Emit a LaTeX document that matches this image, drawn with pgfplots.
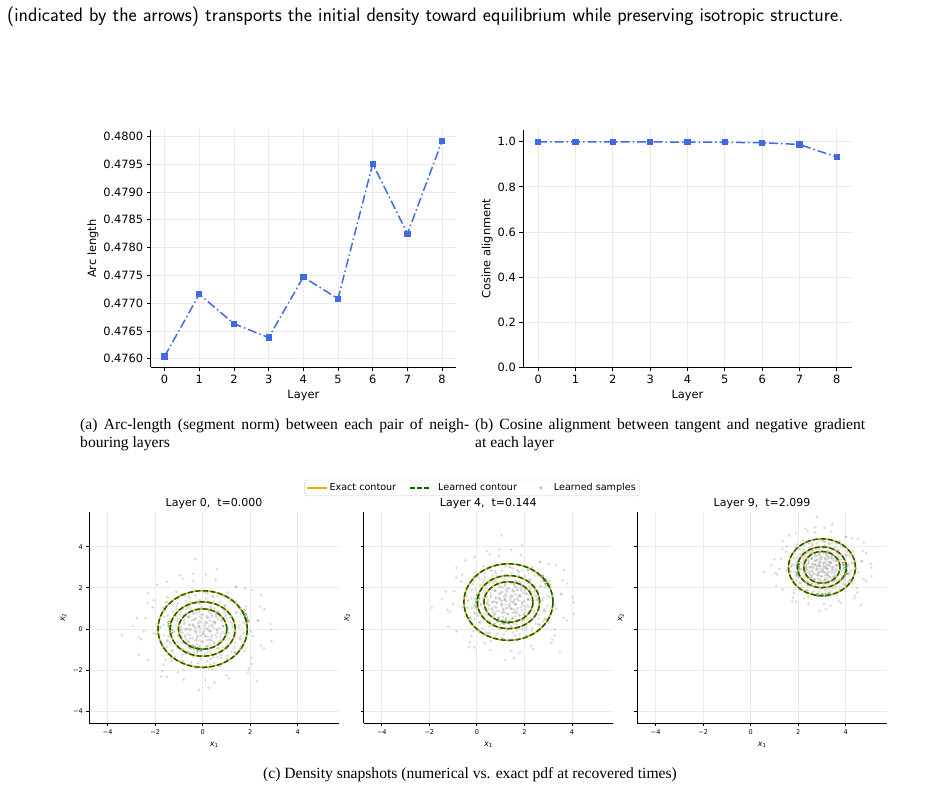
\documentclass[border=0pt]{standalone}
\usepackage{pgfplots}
\pgfplotsset{compat=1.18}
\usepackage{pgfplotstable}
\usepackage{fontspec}
\setmainfont{Liberation Serif}
\newfontfamily\dejavu{DejaVu Sans}
\definecolor{royal}{HTML}{4169E1}
\definecolor{exactc}{HTML}{FFA500}
\definecolor{learnc}{HTML}{006400}
\definecolor{gridc}{HTML}{EBEBEB}
\definecolor{sampc}{HTML}{8C8C8C}

\pgfplotstableread{
layer arc
0 0.47604
1 0.47716
2 0.47663
3 0.47638
4 0.47747
5 0.47708
6 0.47951
7 0.47825
8 0.47992
}\arcdata

\pgfplotstableread{
layer cosv
0 0.9995
1 0.9993
2 0.9992
3 0.9990
4 0.9985
5 0.9975
6 0.9955
7 0.9880
8 0.9320
}\cosdata

\pgfplotstableread{
c s
1 0
0.9848 0.1736
0.9397 0.3420
0.8660 0.5
0.7660 0.6428
0.6428 0.7660
0.5 0.8660
0.3420 0.9397
0.1736 0.9848
0 1
-0.1736 0.9848
-0.3420 0.9397
-0.5 0.8660
-0.6428 0.7660
-0.7660 0.6428
-0.8660 0.5
-0.9397 0.3420
-0.9848 0.1736
-1 0
-0.9848 -0.1736
-0.9397 -0.3420
-0.8660 -0.5
-0.7660 -0.6428
-0.6428 -0.7660
-0.5 -0.8660
-0.3420 -0.9397
-0.1736 -0.9848
0 -1
0.1736 -0.9848
0.3420 -0.9397
0.5 -0.8660
0.6428 -0.7660
0.7660 -0.6428
0.8660 -0.5
0.9397 -0.3420
0.9848 -0.1736
1 0
}\unitcircle

\pgfplotstableread{
x y
0.12 0.35
-0.41 0.22
0.63 -0.18
-0.27 -0.55
0.05 -0.09
0.81 0.40
-0.72 -0.31
0.33 0.77
-0.15 0.91
0.48 -0.66
-0.58 0.61
0.22 -0.38
-0.90 0.12
0.70 0.05
-0.05 0.52
0.39 0.14
-0.33 -0.12
0.15 -0.85
-0.66 -0.70
0.92 -0.25
-0.20 0.28
0.57 0.58
-0.48 -0.88
0.02 0.70
-0.79 0.45
0.28 -0.09
-0.11 -0.31
0.74 -0.55
-0.38 0.75
0.44 0.35
-0.62 0.02
0.09 0.18
-0.24 -0.77
0.66 0.81
-0.85 -0.18
0.31 -0.52
-0.02 -0.60
0.52 0.26
-0.45 0.41
0.18 0.55
-0.70 -0.50
0.85 0.15
-0.30 0.05
0.03 -0.22
0.60 -0.40
-0.53 -0.29
0.26 0.95
-0.14 0.12
0.41 -0.30
-0.95 -0.05
1.25 0.30
-1.10 0.62
0.45 1.35
-0.70 -1.20
1.05 -0.90
-1.45 -0.35
0.20 -1.55
1.60 0.75
-0.55 1.48
0.95 1.12
-1.30 -1.05
1.72 -0.20
-1.85 0.30
0.05 1.80
-0.25 -1.90
1.35 -1.15
-1.05 1.25
0.78 -1.40
-1.60 0.90
1.15 0.55
-0.92 -0.68
0.60 1.62
-1.22 -0.10
1.48 1.05
-0.40 -1.35
1.90 0.35
-1.70 -0.80
0.35 -1.15
-0.80 1.70
1.02 -0.35
-0.15 1.20
1.20 -0.62
-1.55 1.30
0.88 0.98
-0.98 -1.55
1.62 -0.85
-1.12 0.20
0.10 -1.28
-0.30 1.62
1.40 0.10
-1.38 -0.62
0.72 -1.82
-0.62 1.05
1.82 1.10
-1.92 -0.25
0.50 1.02
-0.85 -1.00
1.10 1.55
-1.25 0.85
0.30 -1.72
1.55 -0.45
-0.48 -1.62
0.98 0.70
-1.65 0.20
0.15 1.48
-1.00 -0.30
1.30 1.35
-0.20 -1.10
0.62 -0.95
-1.48 1.55
1.05 0.05
-0.70 1.35
0.40 -1.95
1.78 -1.05
-1.15 -1.35
2.35 0.40
-2.10 1.05
0.55 2.40
-0.80 -2.45
2.05 -1.40
-2.60 -0.50
1.40 2.05
-1.70 -2.05
2.60 0.95
-0.40 2.70
0.25 -2.85
-2.95 0.15
1.90 -2.10
-2.30 1.75
2.90 -0.60
-0.30 3.40
1.10 -2.40
-1.50 2.30
}\samples

\tikzset{clab/.style={font=\dejavu\fontsize{5}{5}\selectfont, text=learnc, inner sep=0.5pt}}

\pgfplotsset{
  mpl/.style={
    scale only axis,
    axis lines=left,
    axis line style={-, line width=0.8pt},
    every outer x axis line/.append style={-},
    every outer y axis line/.append style={-},
    tick align=outside,
    tick style={black, line width=0.8pt},
    major tick length=4pt,
    grid=major,
    major grid style={gridc, line width=0.8pt},
  },
  samp/.style={only marks, mark=*, mark size=1.5pt, color=sampc,
    mark options={draw opacity=0, fill=sampc, fill opacity=0.3}, forget plot},
  bot/.style={mpl,
    width=249.5pt, height=211pt,
    xmin=-4.77, xmax=5.73, ymin=-4.58, ymax=5.67,
    xtick={-4,-2,0,2,4}, ytick={-4,-2,0,2,4},
    xticklabels={−4,−2,0,2,4},
    major tick length=3pt,
    tick label style={font=\dejavu\fontsize{6.5}{8}\selectfont},
    xlabel={{\dejavu\itshape x}\raisebox{-1.5pt}{\dejavu\fontsize{5.5}{6}\selectfont 1}},
    ylabel={{\dejavu\itshape x}\raisebox{-1.5pt}{\dejavu\fontsize{5.5}{6}\selectfont 2}},
    label style={font=\dejavu\fontsize{8}{9}\selectfont},
    title style={font=\dejavu\fontsize{11}{13}\selectfont, yshift=-6pt},
  },
}

\newcommand\cloud[3]{%
  \addplot[samp] table[x expr={#1+#3*\thisrow{x}}, y expr={#2+#3*\thisrow{y}}]{\samples};
  \addplot[samp] table[x expr={#1-#3*\thisrow{y}}, y expr={#2+#3*\thisrow{x}}]{\samples};
  \addplot[samp] table[x expr={#1+#3*(-0.8*\thisrow{x}+0.6*\thisrow{y})}, y expr={#2+#3*(-0.6*\thisrow{x}-0.8*\thisrow{y})}]{\samples};
}
\newcommand\ring[4]{%
  \addplot[exactc, line width=1.5pt, smooth, forget plot] table[x expr={#1+#3*\thisrow{c}}, y expr={#2+#4*\thisrow{s}}]{\unitcircle};
  \addplot[learnc, line width=1.5pt, smooth, dash pattern=on 5pt off 2.5pt, forget plot] table[x expr={#1+#3*\thisrow{c}}, y expr={#2+#4*\thisrow{s}}]{\unitcircle};
}

\begin{document}
\begin{tikzpicture}
\path[use as bounding box] (0pt,0pt) rectangle (939pt,-788pt);

\node[anchor=base west, inner sep=0pt, font=\sffamily\fontsize{19.5}{22}\selectfont] at (7pt,-21pt)
  {(indicated by the arrows) transports the initial density toward equilibrium while preserving isotropic structure.};

% ---------- (a) ----------
\begin{axis}[mpl, at={(150.7pt,-367.3pt)}, anchor=south west,
  width=305.3pt, height=237.3pt,
  xmin=-0.4, xmax=8.4, ymin=0.475845, ymax=0.480117,
  xtick={0,...,8}, xticklabels={0,1,2,3,4,5,6,7,8},
  ytick={0.4760,0.4765,0.4770,0.4775,0.4780,0.4785,0.4790,0.4795,0.4800},
  yticklabels={0.4760,0.4765,0.4770,0.4775,0.4780,0.4785,0.4790,0.4795,0.4800},
  tick label style={font=\dejavu\fontsize{11.4}{13}\selectfont},
  label style={font=\dejavu\fontsize{11.4}{13}\selectfont},
  ylabel style={yshift=-2pt},
  xlabel={Layer}, ylabel={Arc length}]
\addplot[royal, line width=1.5pt, dash pattern=on 9pt off 3pt on 1.5pt off 3pt,
  mark=square*, mark size=2.4pt, mark options={solid, fill=royal, draw=royal}]
  table[x=layer, y=arc]{\arcdata};
\end{axis}

% ---------- (b) ----------
\begin{axis}[mpl, at={(523.3pt,-367.3pt)}, anchor=south west,
  width=328.4pt, height=237.3pt,
  xmin=-0.4, xmax=8.4, ymin=0, ymax=1.052,
  xtick={0,...,8}, xticklabels={0,1,2,3,4,5,6,7,8},
  ytick={0,0.2,0.4,0.6,0.8,1.0},
  yticklabels={0.0,0.2,0.4,0.6,0.8,1.0},
  tick label style={font=\dejavu\fontsize{11.4}{13}\selectfont},
  label style={font=\dejavu\fontsize{11.4}{13}\selectfont},
  ylabel style={yshift=-2pt},
  xlabel={Layer}, ylabel={Cosine alignment}]
\addplot[royal, line width=1.5pt, dash pattern=on 9pt off 3pt on 1.5pt off 3pt,
  mark=square*, mark size=2.4pt, mark options={solid, fill=royal, draw=royal}]
  table[x=layer, y=cosv]{\cosdata};
\end{axis}

\node[anchor=north west, inner sep=0pt, text width=389pt, align=justify,
  font=\fontsize{15.6}{18}\selectfont] at (80pt,-418pt)
  {(a) Arc-length (segment norm) between each pair of neigh-\linebreak bouring layers};
\node[anchor=north west, inner sep=0pt, text width=390pt, align=justify,
  font=\fontsize{15.6}{18}\selectfont] at (475pt,-418pt)
  {(b) Cosine alignment between tangent and negative gradient\linebreak at each layer};

% ---------- (c) panels ----------
\begin{axis}[bot, at={(89.3pt,-723.3pt)}, anchor=south west,
  yticklabels={−4,−2,0,2,4}, title={Layer 0,\ \ t=0.000}]
\cloud{0}{0}{1.0}
\ring{0}{0}{1.88}{1.86}
\ring{0}{0}{1.37}{1.32}
\ring{0}{0}{1.02}{0.98}
\node[clab, rotate=-72] at (axis cs:1.80,0.62) {0.028};
\node[clab, rotate=-80] at (axis cs:-1.36,0.05) {0.061};
\node[clab, rotate=-15] at (axis cs:-0.30,-0.94) {0.094};
\end{axis}

\begin{axis}[bot, at={(363.5pt,-723.3pt)}, anchor=south west,
  yticklabels={}, title={Layer 4,\ \ t=0.144},
  legend columns=3,
  legend style={at={(0.5,1)}, anchor=south, yshift=16.3pt, xshift=-16.3pt,
    draw=black!20, rounded corners=2pt, inner sep=1.5pt,
    font=\dejavu\fontsize{9.6}{11}\selectfont}]
\addlegendimage{legend image code/.code={%
  \path[draw=none, fill=none] (0pt,-3pt) rectangle (20pt,3pt);
  \draw[exactc, line width=1.4pt, sharp corners] (0pt,0pt) -- (20pt,0pt);}}
\addlegendentry{Exact contour}
\addlegendimage{legend image code/.code={%
  \path[draw=none, fill=none] (-12pt,-3pt) rectangle (26pt,3pt);
  \draw[learnc, line width=1.4pt, sharp corners, dash pattern=on 4.5pt off 2.5pt] (0pt,0pt) -- (19pt,0pt);}}
\addlegendentry{Learned contour}
\addlegendimage{legend image code/.code={%
  \path[draw=none, fill=none] (-22pt,-3pt) rectangle (11pt,3pt);
  \fill[black!22, draw=none] (0pt,0pt) circle (1.9pt);}}
\addlegendentry{Learned samples}
\cloud{1.33}{1.31}{0.95}
\ring{1.33}{1.31}{1.875}{1.86}
\ring{1.33}{1.31}{1.31}{1.29}
\ring{1.33}{1.31}{1.03}{0.985}
\node[clab, rotate=-55] at (axis cs:2.89,2.31) {0.029};
\node[clab, rotate=80] at (axis cs:0.02,1.34) {0.055};
\node[clab, rotate=-12] at (axis cs:1.12,0.34) {0.114};
\end{axis}

\begin{axis}[bot, at={(637.3pt,-723.3pt)}, anchor=south west,
  yticklabels={}, title={Layer 9,\ \ t=2.099}]
\cloud{3.0}{3.0}{0.72}
\ring{3.0}{3.0}{1.41}{1.38}
\ring{3.0}{3.0}{1.03}{0.99}
\ring{3.0}{3.0}{0.76}{0.77}
\node[clab, rotate=5] at (axis cs:3.05,1.63) {0.014};
\node[clab, rotate=85] at (axis cs:2.0,2.95) {0.060};
\node[clab, rotate=-80] at (axis cs:3.98,2.90) {0.035};
\end{axis}

\node[anchor=base, inner sep=0pt, font=\fontsize{15.6}{18}\selectfont] at (470pt,-778pt)
  {(c) Density snapshots (numerical vs. exact pdf at recovered times)};
\end{tikzpicture}
\end{document}
